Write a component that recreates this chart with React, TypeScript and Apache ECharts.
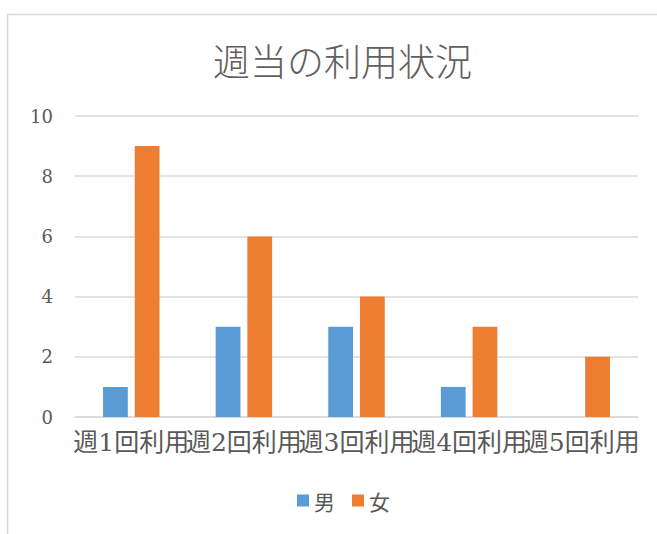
import React, { useEffect, useRef } from "react";
import * as echarts from "echarts";

const categories = ["週1回利用", "週2回利用", "週3回利用", "週4回利用", "週5回利用"];
const maleValues = [1, 3, 3, 1, 0];
const femaleValues = [9, 6, 4, 3, 2];
const seriesNames = ["男", "女"];
const titleText = "週当の利用状況";

export default function App() {
  const ref = useRef<HTMLDivElement>(null);
  useEffect(() => {
    const chart = echarts.init(ref.current!, null, { renderer: "svg" });
    const serifFont = "'DejaVu Serif', 'Noto Sans CJK JP', serif";
    chart.setOption({
      animation: false,
      backgroundColor: "#ffffff",
      title: {
        text: titleText,
        left: 208,
        top: 36,
        textStyle: {
          fontSize: 37,
          fontWeight: 200,
          color: "#606060",
          fontFamily: "'Noto Sans CJK JP', sans-serif",
        },
      },
      graphic: [
        {
          type: "rect",
          shape: { x: 7.5, y: 14.5, width: 700, height: 600 },
          style: { fill: "none", stroke: "#d9d9d9", lineWidth: 1.5 },
          silent: true,
        },
      ],
      legend: {
        data: seriesNames,
        bottom: 18,
        left: 292,
        itemWidth: 12,
        itemHeight: 12,
        itemGap: 17,
        icon: "rect",
        textStyle: {
          fontSize: 21,
          color: "#595959",
          fontFamily: "'Noto Sans CJK JP', sans-serif",
        },
      },
      grid: { left: 75, right: 19, top: 116, bottom: 117 },
      xAxis: {
        type: "category",
        data: categories,
        axisTick: { show: false },
        axisLine: { lineStyle: { color: "#d9d9d9", width: 1.5 } },
        axisLabel: {
          interval: 0,
          margin: 13,
          fontSize: 25,
          color: "#595959",
          fontFamily: serifFont,
        },
      },
      yAxis: {
        type: "value",
        min: 0,
        max: 10,
        interval: 2,
        axisLine: { show: false },
        axisTick: { show: false },
        splitLine: { lineStyle: { color: "#d9d9d9", width: 1.5 } },
        axisLabel: {
          margin: 22,
          fontSize: 18,
          color: "#595959",
          fontFamily: serifFont,
        },
      },
      series: [
        {
          name: seriesNames[0],
          type: "bar",
          data: maleValues,
          barWidth: "22%",
          barGap: "28%",
          itemStyle: { color: "#5B9BD5" },
        },
        {
          name: seriesNames[1],
          type: "bar",
          data: femaleValues,
          barWidth: "22%",
          barGap: "28%",
          itemStyle: { color: "#ED7D31" },
        },
      ],
    });
    return () => chart.dispose();
  }, []);
  return (
    <div
      ref={ref}
      style={{ position: "absolute", left: 0, top: 0, width: 657, height: 534 }}
    />
  );
}
